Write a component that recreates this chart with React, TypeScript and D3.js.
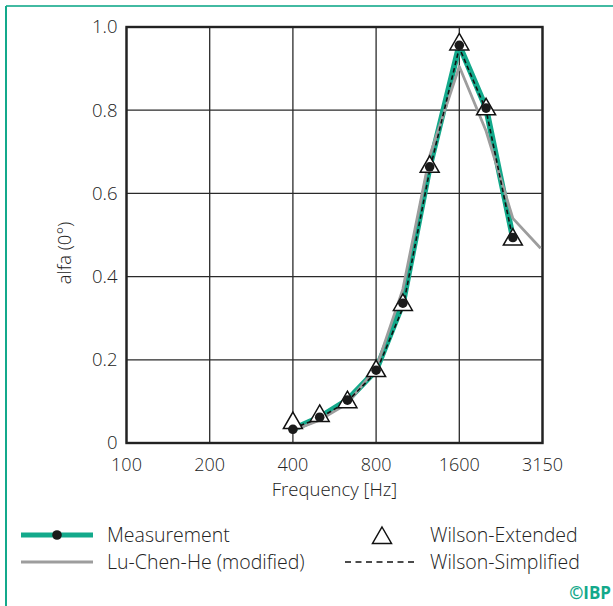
import * as d3 from "d3";

// octave band centres on the x axis (3150 sits on the 3200 octave line)
const xTickValues = [100, 200, 400, 800, 1600, 3200];
const xTickLabels = ["100", "200", "400", "800", "1600", "3150"];
const yTickValues = [0, 0.2, 0.4, 0.6, 0.8, 1.0];
const yTickLabels = ["0", "0.2", "0.4", "0.6", "0.8", "1.0"];

// third-octave frequencies of the measured points
const freqs = [400, 500, 630, 800, 1000, 1250, 1600, 2000, 2500];
const measurement = [0.033, 0.062, 0.103, 0.175, 0.336, 0.664, 0.956, 0.805, 0.494];
const wilsonExtended = [0.048, 0.065, 0.098, 0.173, 0.332, 0.664, 0.958, 0.802, 0.489];
const wilsonSimplified = [0.035, 0.06, 0.1, 0.17, 0.325, 0.655, 0.95, 0.8, 0.49];

const luFreqs = [400, 500, 630, 800, 1000, 1250, 1600, 2000, 2500, 3150];
const luChenHe = [0.03, 0.055, 0.095, 0.18, 0.37, 0.69, 0.905, 0.75, 0.54, 0.468];

const W = 613, H = 606;
const margin = {top: 27, right: 70.5, bottom: 163, left: 126.5};
const font = "'Open Sans', 'Noto Sans', sans-serif";
const green = "#13a98b";
const textColor = "#222";

export default function App() {
  const width = W - margin.left - margin.right;
  const height = H - margin.top - margin.bottom;

  const x = d3.scaleLog().base(2).domain([100, 3200]).range([0, width]);
  const y = d3.scaleLinear().domain([0, 1]).range([height, 0]);

  const line = d3.line<[number, number]>()
    .x(d => x(d[0]))
    .y(d => y(d[1]));

  const measPts = freqs.map((f, i) => [f, measurement[i]] as [number, number]);
  const simpPts = freqs.map((f, i) => [f, wilsonSimplified[i]] as [number, number]);
  const luPts = luFreqs.map((f, i) => [f, luChenHe[i]] as [number, number]);

  const tri = (cx: number, cy: number) => {
    const w = 19, h = 16.5;
    return `M${cx},${cy - (2 * h) / 3}L${cx + w / 2},${cy + h / 3}L${cx - w / 2},${cy + h / 3}Z`;
  };

  return (
    <svg width={W} height={H} style={{position: "absolute", left: 0, top: 0}} fontFamily={font} fontWeight={350}>
      <rect width={W} height={H} fill="#fff" />
      {/* teal frame */}
      <line x1={6} x2={W} y1={6} y2={6} stroke={green} strokeWidth={2} opacity={0.8} />
      <line x1={6} x2={6} y1={6} y2={H} stroke={green} strokeWidth={2} />

      <g transform={`translate(${margin.left},${margin.top})`}>
        <defs>
          <clipPath id="clip">
            <rect width={width} height={height} />
          </clipPath>
        </defs>

        {/* grid */}
        {xTickValues.map(v => (
          <line key={"gx" + v} x1={x(v)} x2={x(v)} y1={0} y2={height} stroke="#2a2a2a" strokeWidth={1.3} />
        ))}
        {yTickValues.map(v => (
          <line key={"gy" + v} x1={0} x2={width} y1={y(v)} y2={y(v)} stroke="#2a2a2a" strokeWidth={1.3} />
        ))}
        <rect width={width} height={height} fill="none" stroke="#222" strokeWidth={2.4} />

        {/* tick labels */}
        {yTickValues.map((v, i) => (
          <text key={"ty" + v} x={-9} y={y(v)} dy="0.35em" textAnchor="end" fontSize={18.5} fill={textColor}>
            {yTickLabels[i]}
          </text>
        ))}
        {xTickValues.map((v, i) => (
          <text key={"tx" + v} x={x(v)} y={height + 28} textAnchor="middle" fontSize={18} fill={textColor}>
            {xTickLabels[i]}
          </text>
        ))}
        <text x={width / 2} y={height + 53} textAnchor="middle" fontSize={18.5} fill={textColor}>
          Frequency [Hz]
        </text>
        <text transform={`translate(-55.5,${226}) rotate(-90)`} textAnchor="middle" fontSize={18.5} fill={textColor}>
          alfa (0°)
        </text>

        {/* series */}
        <g clipPath="url(#clip)">
          <path d={line(measPts) ?? ""} fill="none" stroke={green} strokeWidth={6} strokeLinejoin="round" />
          <path d={line(luPts) ?? ""} fill="none" stroke="#9d9d9d" strokeWidth={2.8} strokeLinejoin="round" />
          <path d={line(simpPts) ?? ""} fill="none" stroke="#111" strokeWidth={1.6} strokeDasharray="4.5 3" />
        </g>
        {freqs.map((f, i) => (
          <path key={"tr" + f} d={tri(x(f), y(wilsonExtended[i]))} fill="#fff" stroke="#111" strokeWidth={1.5} strokeLinejoin="miter" />
        ))}
        {freqs.map((f, i) => (
          <circle key={"pt" + f} cx={x(f)} cy={y(measurement[i])} r={4.8} fill="#1a1a1a" />
        ))}
      </g>

      {/* legend */}
      <g fontSize={19.5} fill={textColor}>
        <line x1={21} x2={93} y1={535} y2={535} stroke={green} strokeWidth={5} />
        <circle cx={57} cy={535} r={4.8} fill="#1a1a1a" />
        <text x={107} y={535} dy="0.35em">Measurement</text>
        <line x1={21} x2={93} y1={562} y2={562} stroke="#9d9d9d" strokeWidth={3} />
        <text x={107} y={562} dy="0.35em">Lu-Chen-He (modified)</text>
        <path d={tri(382, 538)} fill="#fff" stroke="#111" strokeWidth={1.5} />
        <text x={430} y={535} dy="0.35em">Wilson-Extended</text>
        <line x1={345} x2={418} y1={562} y2={562} stroke="#111" strokeWidth={1.5} strokeDasharray="6 4.5" />
        <text x={430} y={562} dy="0.35em">Wilson-Simplified</text>
        <text x={611} y={599} textAnchor="end" fontSize={17} fontWeight={700} fill={green}>©IBP</text>
      </g>
    </svg>
  );
}
